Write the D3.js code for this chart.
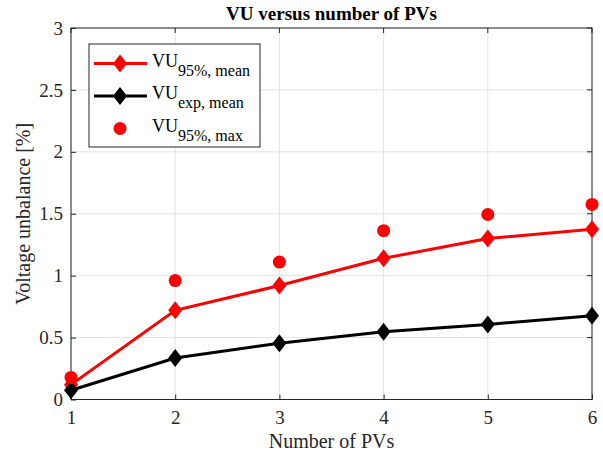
<!DOCTYPE html>
<html><head><meta charset="utf-8">
<script src="https://cdn.jsdelivr.net/npm/d3@7"></script>
<style>body{margin:0;background:#fff}svg{display:block}text{font-family:"Liberation Serif","Times New Roman",serif}</style>
</head><body><svg id="c" width="603" height="457"></svg>
<script>
const pvs = [1, 2, 3, 4, 5, 6];
const vu95Mean = [0.12, 0.72, 0.92, 1.14, 1.30, 1.375];
const vuExpMean = [0.075, 0.335, 0.455, 0.547, 0.606, 0.677];
const vu95Max = [0.178, 0.96, 1.11, 1.363, 1.494, 1.575];
const xTicks = [1, 2, 3, 4, 5, 6];
const yTicks = [0, 0.5, 1, 1.5, 2, 2.5, 3];

const svg = d3.select("#c");
const L = 71, R = 592, T = 28, B = 399.5;
const x = d3.scaleLinear().domain([1, 6]).range([L, R]);
const y = d3.scaleLinear().domain([0, 3]).range([B, T]);

// grid
svg.append("g").selectAll("line").data(xTicks).join("line")
  .attr("x1", d => x(d)).attr("x2", d => x(d)).attr("y1", T).attr("y2", B)
  .attr("stroke", "#e3e3e3").attr("stroke-width", 1);
svg.append("g").selectAll("line").data(yTicks).join("line")
  .attr("x1", L).attr("x2", R).attr("y1", d => y(d)).attr("y2", d => y(d))
  .attr("stroke", "#e3e3e3").attr("stroke-width", 1);

// axes
const xAxis = d3.axisBottom(x).tickValues(xTicks).tickSize(-5).tickPadding(11).tickFormat(d3.format("d"));
const yAxis = d3.axisLeft(y).tickValues(yTicks).tickSize(-5).tickPadding(8).tickFormat(d => d);
const gx = svg.append("g").attr("transform", `translate(0,${B})`).call(xAxis);
const gy = svg.append("g").attr("transform", `translate(${L},0)`).call(yAxis);
[gx, gy].forEach(g => {
  g.select(".domain").remove();
  g.selectAll("line").attr("stroke", "#262626");
  g.selectAll("text").attr("font-size", 19).attr("fill", "#262626").attr("font-family", '"Liberation Serif",serif');
});
// right and top ticks
svg.append("g").selectAll("line").data(yTicks).join("line")
  .attr("x1", R).attr("x2", R - 5).attr("y1", d => y(d)).attr("y2", d => y(d)).attr("stroke", "#262626");
svg.append("g").selectAll("line").data(xTicks).join("line")
  .attr("x1", d => x(d)).attr("x2", d => x(d)).attr("y1", T).attr("y2", T + 5).attr("stroke", "#262626");
svg.append("rect").attr("x", L).attr("y", T).attr("width", R - L).attr("height", B - T)
  .attr("fill", "none").attr("stroke", "#262626").attr("stroke-width", 1);

// lines
const line = d3.line().x((d, i) => x(pvs[i])).y(d => y(d));
const diamondPath = "M0,-9L7,0L0,9L-7,0Z";
function series(vals, color) {
  svg.append("path").datum(vals).attr("d", line).attr("fill", "none")
    .attr("stroke", color).attr("stroke-width", 3);
  svg.append("g").selectAll("path").data(vals).join("path")
    .attr("d", diamondPath).attr("fill", color)
    .attr("transform", (d, i) => `translate(${x(pvs[i])},${y(d)})`);
}
series(vu95Mean, "#ff0000");
series(vuExpMean, "#000000");
svg.append("g").selectAll("circle").data(vu95Max).join("circle")
  .attr("cx", (d, i) => x(pvs[i])).attr("cy", d => y(d)).attr("r", 6.5).attr("fill", "#ff0000");

// title & labels
svg.append("text").attr("x", (L + R) / 2).attr("y", 20).attr("text-anchor", "middle")
  .attr("font-size", 19).attr("font-weight", "bold").text("VU versus number of PVs");
svg.append("text").attr("x", (L + R) / 2).attr("y", 448).attr("text-anchor", "middle")
  .attr("font-size", 20).attr("fill", "#262626").text("Number of PVs");
svg.append("text").attr("transform", `translate(30,${(T + B) / 2}) rotate(-90)`).attr("text-anchor", "middle")
  .attr("font-size", 20).attr("fill", "#262626").text("Voltage unbalance [%]");

// legend
const lg = svg.append("g");
lg.append("rect").attr("x", 89).attr("y", 44).attr("width", 171).attr("height", 103)
  .attr("fill", "#fff").attr("stroke", "#262626").attr("stroke-width", 1);
const legendItems = [
  {sub: "95%, mean", color: "#ff0000", type: "line"},
  {sub: "exp, mean", color: "#000000", type: "line"},
  {sub: "95%, max", color: "#ff0000", type: "dot"}
];
legendItems.forEach((it, i) => {
  const cy = 63.5 + i * 32.5;
  if (it.type === "line") {
    lg.append("line").attr("x1", 94).attr("x2", 147).attr("y1", cy).attr("y2", cy)
      .attr("stroke", it.color).attr("stroke-width", 3);
    lg.append("path").attr("d", diamondPath).attr("fill", it.color)
      .attr("transform", `translate(120,${cy})`);
  } else {
    lg.append("circle").attr("cx", 120).attr("cy", cy).attr("r", 6.5).attr("fill", it.color);
  }
  const t = lg.append("text").attr("x", 152).attr("y", cy + 3).attr("font-size", 18);
  t.append("tspan").text("VU");
  t.append("tspan").attr("font-size", 16).attr("dy", 9).text(it.sub);
});
</script></body></html>
